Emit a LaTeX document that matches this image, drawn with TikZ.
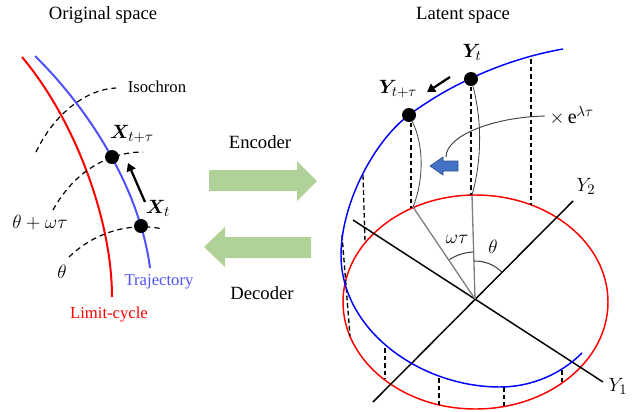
\documentclass[tikz,border=0pt]{standalone}
\usepackage{amsmath,bm}
\usepackage{fontspec}
\setmainfont{Liberation Serif}
\usetikzlibrary{arrows.meta,calc}
\definecolor{lcred}{RGB}{255,0,0}
\definecolor{trblueL}{RGB}{80,80,255}
\definecolor{trblue}{RGB}{0,0,255}
\definecolor{arrgreen}{RGB}{176,210,152}
\definecolor{arrblue}{RGB}{68,114,196}
\definecolor{arrblueD}{RGB}{47,82,143}
\begin{document}
\begin{tikzpicture}[x=0.75pt,y=-0.75pt,
  title/.style={font=\fontsize{14}{16}\selectfont},
  lbl/.style={font=\fontsize{12.5}{15}\selectfont},
  mlbl/.style={font=\fontsize{15}{17}\selectfont},
  dotn/.style={circle,fill=black,inner sep=0pt,minimum size=10.5pt},
  iso/.style={line width=0.9pt,dash pattern=on 4pt off 3pt},
  proj/.style={line width=1pt,dash pattern=on 3.5pt off 2.2pt},
  curveL/.style={line width=1.5pt},
  axisline/.style={line width=1.1pt},
  radial/.style={line width=1pt,gray},
  thin/.style={line width=0.6pt,black!75},
  bigarrow/.style={-{Triangle[length=6pt,width=7pt]},line width=1.7pt},
  blockarrow/.style={fill=arrgreen,draw=none}
]
\useasboundingbox (0,0) rectangle (639,411);

% ---------- titles ----------
\node[title] (t1) at (103,15) {Original space};
\node[title] (t2) at (463,15) {Latent space};

% ---------- left panel ----------
\draw[lcred,curveL] (22,57) .. controls (75,120) and (112,220) .. (112,297);
\draw[trblueL,curveL] (35,56) .. controls (90,110) and (140,190) .. (150,268);
\draw[iso] (36,152) .. controls (55,112) and (88,89) .. (116,88);
\draw[iso] (53,210) .. controls (75,170) and (110,152) .. (143,152);
\draw[iso] (69,257) .. controls (95,232) and (130,222) .. (163,229);

\node[dotn] (xtt) at (112,157) {};
\node[dotn] (xt) at (141,226) {};
\coordinate (aS) at (145,202);
\coordinate (aE) at (128,163);
\draw[bigarrow] (aS) -- (aE);

\node[lbl] (iso) at (157,87) {Isochron};
\node[mlbl] (lxtt) at (132,134) {$\bm{X}_{t+\tau}$};
\node[mlbl] (lxt) at (158,208) {$\bm{X}_{t}$};
\node[mlbl] (lthw) at (40,223) {$\theta+\omega\tau$};
\node[mlbl] (lth) at (62,272) {$\theta$};
\node[lbl,text=trblueL] (ltr) at (159,282) {Trajectory};
\node[lbl,text=lcred] (llc) at (109,315) {Limit-cycle};

% ---------- middle arrows ----------
\node[title] (enc) at (260,142) {Encoder};
\node[title] (dec) at (262,293) {Decoder};
\fill[blockarrow] (209,170) -- (297,170) -- (297,161) -- (317,181) -- (297,201) -- (297,191) -- (209,191) -- cycle;
\fill[blockarrow] (311,237) -- (225,237) -- (225,227) -- (204,247) -- (225,267) -- (225,258) -- (311,258) -- cycle;

% ---------- right panel ----------
\coordinate (o) at (475,299);
% limit cycle ellipse
\draw[lcred,line width=1.1pt] (475.5,302) ellipse [x radius=132.5,y radius=107];
% axes
\coordinate (y1a) at (353,220);
\coordinate (y1b) at (603,382);
\coordinate (y2a) at (373,402);
\coordinate (y2b) at (573,201);
\draw[axisline] (y1a) -- (y1b);
\draw[axisline] (y2a) -- (y2b);
\node[mlbl] (ly1) at (618,386) {$Y_1$};
\node[mlbl] (ly2) at (586,186) {$Y_2$};

% projections (dashed)
\draw[proj] (531,59) -- (531,205);
\draw[proj] (471,79) -- (471,195);
\draw[proj] (411,115) -- (411,208);
\draw[proj] (363,175) -- (365,242);
\draw[proj] (342,235) -- (350,336);
\draw[proj] (385,348) -- (385,379);
\draw[proj] (439,378) -- (439,405);
\draw[proj] (504,387) -- (504,406);
\draw[proj] (562,370) -- (562,383);

% spiral trajectory
\draw[trblue,line width=1.1pt] (563,49) .. controls (500,60) and (445,88) .. (409,115)
   .. controls (373,142) and (341,205) .. (341,255)
   .. controls (341,330) and (420,387) .. (500,387)
   .. controls (530,387) and (560,375) .. (582,353);

% radial lines
\coordinate (p1) at (472,195);
\coordinate (p2) at (413,207);
\draw[radial] (o) -- (p1);
\draw[radial] (o) -- (p2);

% dots
\node[dotn] (yt) at (471,79) {};
\node[dotn] (ytt) at (409,115) {};

% thin curves from dots to limit cycle
\draw[thin] (yt) .. controls (482,120) and (482,160) .. (p1);
\draw[thin] (ytt) .. controls (424,145) and (424,180) .. (p2);

% angle arcs
\draw[thin,line width=0.8pt] ($(o)+(-92:38)$) arc[start angle=-92,end angle=-45,radius=38];
\draw[thin,line width=0.8pt] ($(o)+(-92:47)$) arc[start angle=-92,end angle=-123,radius=47];
\node[mlbl] (lth2) at (493,247) {$\theta$};
\node[mlbl] (lwt) at (457,239) {$\omega\tau$};

% labels
\node[mlbl] (lyt) at (472,52) {$\bm{Y}_{t}$};
\node[mlbl] (lytt) at (398,89) {$\bm{Y}_{t+\tau}$};
\coordinate (bS) at (450,77);
\coordinate (bE) at (427,92);
\draw[bigarrow] (bS) -- (bE);

% exponential label with leader
\node[mlbl,anchor=west] (lexp) at (545,116) {$\times\,\mathrm{e}^{\lambda\tau}$};
\coordinate (lead) at (446,157);
\draw[thin,line width=0.7pt] (lexp.west) .. controls (495,117) and (446,135) .. (lead);

% blue block arrow
\filldraw[fill=arrblue,draw=arrblueD,line width=0.5pt] (458,161) -- (443,161) -- (443,157) -- (430,166) -- (443,175) -- (443,171) -- (458,171) -- cycle;
\end{tikzpicture}
\end{document}
